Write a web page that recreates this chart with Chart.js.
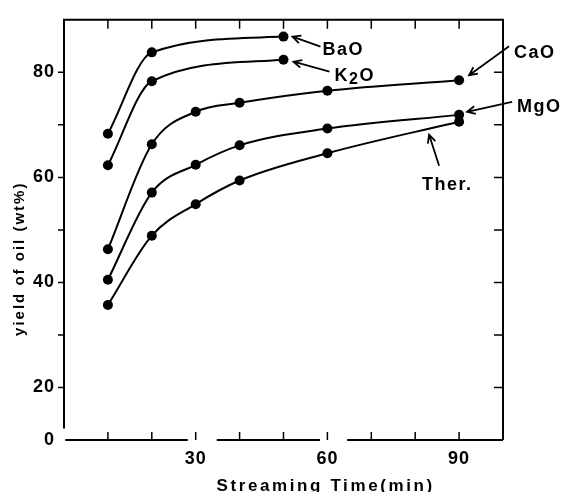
<!DOCTYPE html>
<html lang="en">
<head>
    <meta charset="UTF-8">
    <title>Yield of oil vs streaming time</title>
    <script src="https://cdn.jsdelivr.net/npm/chart.js"></script>
    <style>
        body { margin: 0; background: #ffffff; }
        canvas { display: block; }
    </style>
</head>
<body>
    <canvas id="chart" width="566" height="492"></canvas>
    <script>
        // data
        const longTimes = [10, 20, 30, 40, 60, 90];
        const shortTimes = [10, 20, 50];
        const baoYield = [68.3, 83.8, 86.8];
        const k2oYield = [62.3, 78.3, 82.4];
        const caoYield = [46.3, 66.3, 72.5, 74.2, 76.5, 78.5];
        const mgoYield = [40.5, 57.1, 62.4, 66.1, 69.3, 71.9];
        const therYield = [35.7, 48.9, 54.9, 59.4, 64.6, 70.6];
        const yTickLabels = { 10: '0', 20: '20', 40: '40', 60: '60', 80: '80' };
        const xTickLabels = { 30: '30', 60: '60', 90: '90' };

        const FONT = "'Liberation Sans', Arial, sans-serif";

        function pairs(xs, ys) {
            return xs.map((x, i) => ({ x: x, y: ys[i] }));
        }

        function series(label, xs, ys) {
            return {
                label: label,
                data: pairs(xs, ys),
                borderColor: '#000',
                backgroundColor: '#000',
                borderWidth: 2,
                pointRadius: 5,
                pointBorderWidth: 0,
                cubicInterpolationMode: 'monotone',
                fill: false,
            };
        }

        // labels + arrows, offsets in px from the series' last point
        const notes = [
            { ds: 0, text: 'BaO', head: [9, 0], tail: [37, 10], pos: [39, 18] },
            { ds: 1, text: 'K2O', head: [10, 2], tail: [46, 12], pos: [51, 21] },
            { ds: 2, text: 'CaO', head: [10, -5], tail: [50, -34], pos: [55, -22] },
            { ds: 3, text: 'MgO', head: [8, -3], tail: [53, -13], pos: [58, -3] },
            { ds: 4, text: 'Ther.', head: [-30, 13], tail: [-20, 44], pos: [-37, 68] },
        ];

        function arrow(ctx, x1, y1, x2, y2) {
            const a = Math.atan2(y2 - y1, x2 - x1);
            const L = 9, w = 0.45;
            ctx.beginPath();
            ctx.moveTo(x1, y1);
            ctx.lineTo(x2, y2);
            ctx.moveTo(x2 - L * Math.cos(a - w), y2 - L * Math.sin(a - w));
            ctx.lineTo(x2, y2);
            ctx.lineTo(x2 - L * Math.cos(a + w), y2 - L * Math.sin(a + w));
            ctx.stroke();
        }

        const framePlugin = {
            id: 'frame',
            beforeDraw(chart) {
                chart.ctx.letterSpacing = '1px';
            },
            beforeDatasetsDraw(chart) {
                const { ctx, chartArea: a } = chart;
                const xs = chart.scales.x, ys = chart.scales.y;
                ctx.save();
                ctx.strokeStyle = '#000';
                ctx.lineWidth = 2;
                ctx.lineCap = 'butt';
                ctx.beginPath();
                // left, top, right
                ctx.moveTo(a.left, ys.getPixelForValue(12.2));
                ctx.lineTo(a.left, a.top);
                ctx.lineTo(a.right, a.top);
                ctx.lineTo(a.right, a.bottom);
                // bottom axis with its breaks
                [[0.3, 28.2], [34.8, 58.3], [64.5, 100]].forEach(([s, e]) => {
                    ctx.moveTo(xs.getPixelForValue(s), a.bottom);
                    ctx.lineTo(xs.getPixelForValue(e), a.bottom);
                });
                ctx.stroke();
                ctx.lineWidth = 1.5;
                ctx.beginPath();
                for (let v = 20; v <= 80; v += 10) {
                    const y = ys.getPixelForValue(v);
                    ctx.moveTo(a.left - 6, y); ctx.lineTo(a.left, y);
                    ctx.moveTo(a.right - 9, y); ctx.lineTo(a.right, y);
                }
                for (let v = 10; v <= 90; v += 10) {
                    const x = xs.getPixelForValue(v);
                    ctx.moveTo(x, a.top); ctx.lineTo(x, a.top + 9);
                    ctx.moveTo(x, a.bottom); ctx.lineTo(x, a.bottom - 8);
                }
                ctx.stroke();

                // axis titles
                ctx.fillStyle = '#000';
                ctx.letterSpacing = '2.6px';
                ctx.font = 'bold 17px ' + FONT;
                ctx.textAlign = 'center';
                ctx.textBaseline = 'alphabetic';
                ctx.fillText('Streaming Time(min)', xs.getPixelForValue(59.6), 491);
                ctx.letterSpacing = '2px';
                ctx.font = 'bold 15px ' + FONT;
                ctx.translate(24, ys.getPixelForValue(44.5));
                ctx.rotate(-Math.PI / 2);
                ctx.fillText('yield of oil (wt%)', 0, 0);
                ctx.restore();
            },
            afterDatasetsDraw(chart) {
                const { ctx } = chart;
                ctx.save();
                ctx.strokeStyle = '#000';
                ctx.fillStyle = '#000';
                ctx.lineWidth = 1.8;
                ctx.letterSpacing = '1.5px';
                ctx.textAlign = 'left';
                ctx.textBaseline = 'alphabetic';
                notes.forEach(n => {
                    const pts = chart.getDatasetMeta(n.ds).data;
                    const p = pts[pts.length - 1];
                    arrow(ctx, p.x + n.tail[0], p.y + n.tail[1], p.x + n.head[0], p.y + n.head[1]);
                    let x = p.x + n.pos[0];
                    const y = p.y + n.pos[1];
                    ctx.font = 'bold 18px ' + FONT;
                    if (n.text === 'K2O') {
                        ctx.fillText('K', x, y);
                        x += ctx.measureText('K').width;
                        ctx.font = 'bold 16px ' + FONT;
                        ctx.fillText('2', x, y + 3);
                        x += ctx.measureText('2').width;
                        ctx.font = 'bold 18px ' + FONT;
                        ctx.fillText('O', x, y);
                    } else {
                        ctx.fillText(n.text, x, y);
                    }
                });
                ctx.restore();
            }
        };

        const ctx = document.getElementById('chart').getContext('2d');
        const chart = new Chart(ctx, {
            type: 'line',
            data: {
                datasets: [
                    series('BaO', shortTimes, baoYield),
                    series('K2O', shortTimes, k2oYield),
                    series('CaO', longTimes, caoYield),
                    series('MgO', longTimes, mgoYield),
                    series('Ther.', longTimes, therYield),
                ],
            },
            options: {
                responsive: false,
                animation: false,
                devicePixelRatio: 1,
                layout: { padding: { top: 14, right: 63, left: 0, bottom: 0 } },
                plugins: {
                    legend: { display: false },
                    tooltip: { enabled: false },
                },
                scales: {
                    x: {
                        type: 'linear',
                        min: 0,
                        max: 100,
                        afterFit: (s) => { s.height = 52; },
                        grid: { display: false, drawTicks: false },
                        border: { display: false },
                        ticks: {
                            stepSize: 10,
                            padding: 8,
                            maxRotation: 0,
                            autoSkip: false,
                            color: '#000',
                            font: { family: FONT, size: 18, weight: 'bold' },
                            callback: (v) => xTickLabels[v] || '',
                        },
                    },
                    y: {
                        min: 10,
                        max: 90,
                        afterFit: (s) => { s.width = 64; },
                        grid: { display: false, drawTicks: false },
                        border: { display: false },
                        ticks: {
                            stepSize: 10,
                            padding: 9,
                            autoSkip: false,
                            color: '#000',
                            font: { family: FONT, size: 18, weight: 'bold' },
                            callback: (v) => yTickLabels[v] || '',
                        },
                    },
                },
            },
            plugins: [framePlugin],
        });
    </script>
</body>
</html>
